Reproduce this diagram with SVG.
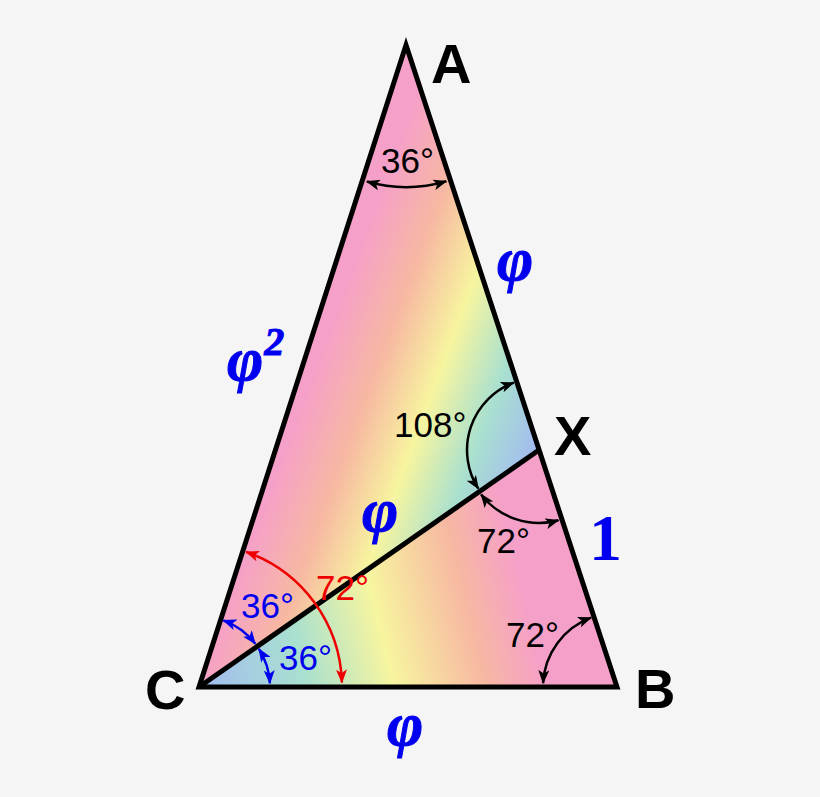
<svg xmlns="http://www.w3.org/2000/svg" width="820" height="797" viewBox="0 0 820 797">
<style>
.lbl{font-family:"Liberation Sans",Arial,sans-serif;font-weight:bold;font-size:56px;fill:#000}
.ang{font-family:"Liberation Sans",Arial,sans-serif;font-size:35px}
.phi{font-family:"Liberation Serif","Times New Roman",serif;font-weight:bold;font-style:italic;font-size:62px;fill:#0000ee;stroke:#0000ee;stroke-width:1}
.one{font-family:"Liberation Serif","Times New Roman",serif;font-weight:bold;font-size:66px;fill:#0000ee}
.arc{fill:none;stroke-width:2.5}
.edge{fill:none;stroke:#000;stroke-width:5;stroke-linejoin:miter}
</style>
<defs>
<linearGradient id="gUp" gradientUnits="userSpaceOnUse" x1="376" y1="140" x2="630" y2="234.5">
<stop offset="0" stop-color="#f5a0c8"/>
<stop offset="0.08" stop-color="#f5a0c8"/>
<stop offset="0.3" stop-color="#f7b8a2"/>
<stop offset="0.52" stop-color="#f7f59f"/>
<stop offset="0.74" stop-color="#a9e0cf"/>
<stop offset="0.95" stop-color="#a3bcf0"/>
<stop offset="1" stop-color="#a3bcf0"/>
</linearGradient>
<linearGradient id="gLow" gradientUnits="userSpaceOnUse" x1="29.1" y1="-6.9" x2="388" y2="-92">
<stop offset="0" stop-color="#a3bcf0"/>
<stop offset="0.02" stop-color="#a3bcf0"/>
<stop offset="0.3" stop-color="#a9e0cf"/>
<stop offset="0.53" stop-color="#f7f59f"/>
<stop offset="0.77" stop-color="#f7b8a2"/>
<stop offset="0.93" stop-color="#f5a0c8"/>
<stop offset="1" stop-color="#f5a0c8"/>
</linearGradient>
<marker id="mk" viewBox="0 0 14 11" markerUnits="userSpaceOnUse" markerWidth="14" markerHeight="11" refX="13" refY="5.5" orient="auto-start-reverse"><path d="M0,0 L14,5.5 L0,11 L3.5,5.5 z" fill="#000"/></marker>
<marker id="mb" viewBox="0 0 14 11" markerUnits="userSpaceOnUse" markerWidth="14" markerHeight="11" refX="13" refY="5.5" orient="auto-start-reverse"><path d="M0,0 L14,5.5 L0,11 L3.5,5.5 z" fill="#0000ee"/></marker>
<marker id="mr" viewBox="0 0 14 11" markerUnits="userSpaceOnUse" markerWidth="14" markerHeight="11" refX="13" refY="5.5" orient="auto-start-reverse"><path d="M0,0 L14,5.5 L0,11 L3.5,5.5 z" fill="#ee0000"/></marker>
</defs>
<rect width="820" height="797" fill="#f5f5f5"/>
<g id="fills">
<polygon points="406,45 539,450 199,687" fill="url(#gUp)"/>
<polygon points="199,687 539,450 617,687" fill="url(#gLow)"/>
</g>
<g id="connectors">
<polygon class="edge" points="406,45 617,687 199,687"/>
<line class="edge" x1="199" y1="687" x2="539" y2="450"/>
<path class="arc" stroke="#000" marker-start="url(#mk)" marker-end="url(#mk)" d="M366.9,181.5 A142,142 0 0 0 446.3,181.2"/>
<path class="arc" stroke="#000" marker-start="url(#mk)" marker-end="url(#mk)" d="M513.8,382.6 A72,72 0 0 0 478.3,488.7"/>
<path class="arc" stroke="#000" marker-start="url(#mk)" marker-end="url(#mk)" d="M481.1,494.4 A73,73 0 0 0 558.5,520.3"/>
<path class="arc" stroke="#000" marker-start="url(#mk)" marker-end="url(#mk)" d="M591.1,617.7 A74,74 0 0 0 543.1,683.1"/>
<path class="arc" stroke="#ee0000" marker-start="url(#mr)" marker-end="url(#mr)" d="M246,551.9 A143,143 0 0 1 341.9,682.5"/>
<path class="arc" stroke="#0000ee" marker-start="url(#mb)" marker-end="url(#mb)" d="M223.3,620.3 A71,71 0 0 1 255.3,643.8"/>
<path class="arc" stroke="#0000ee" marker-start="url(#mb)" marker-end="url(#mb)" d="M258.9,648.9 A71,71 0 0 1 269.9,683.3"/>
</g>
<g id="vertex-A"><text class="lbl" x="431" y="83">A</text></g>
<g id="vertex-B"><text class="lbl" x="635" y="708">B</text></g>
<g id="vertex-C"><text class="lbl" x="145" y="709">C</text></g>
<g id="vertex-X"><text class="lbl" x="554" y="455">X</text></g>
<g id="angles">
<text class="ang" x="381" y="173" fill="#000">36°</text>
<text class="ang" x="394" y="437" fill="#000">108°</text>
<text class="ang" x="477" y="553" fill="#000">72°</text>
<text class="ang" x="506" y="647" fill="#000">72°</text>
<text class="ang" x="316" y="600" fill="#ee0000">72°</text>
<text class="ang" x="241" y="618" fill="#0000ee">36°</text>
<text class="ang" x="279" y="670" fill="#0000ee">36°</text>
</g>
<g id="lengths">
<text class="phi" x="497" y="280">φ</text>
<text class="phi" x="227" y="380">φ<tspan font-size="40" dy="-25" dx="1">2</tspan></text>
<text class="phi" x="362" y="531">φ</text>
<text class="phi" x="387" y="745">φ</text>
<text class="one" x="589" y="560">1</text>
</g>
</svg>
